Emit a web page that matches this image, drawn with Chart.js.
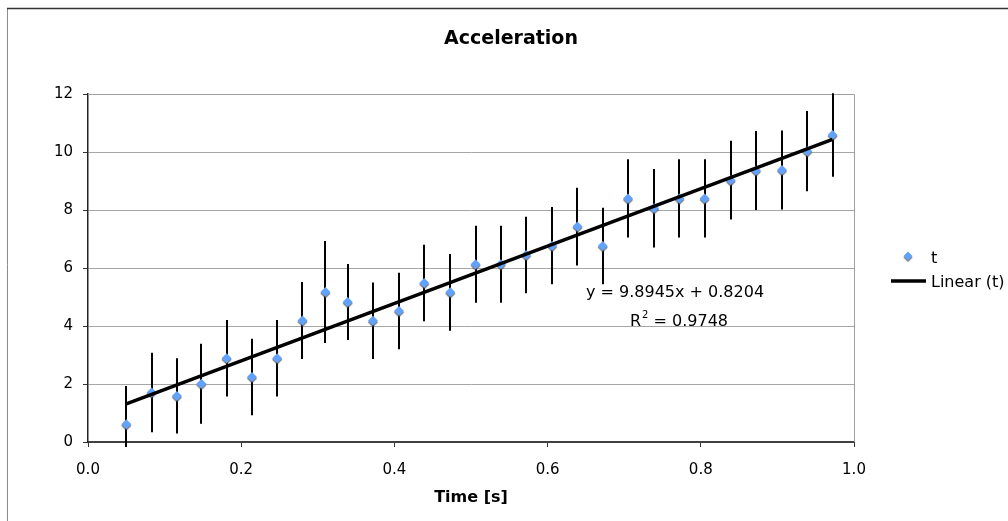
<!DOCTYPE html>
<html><head><meta charset="utf-8">
<script src="https://cdn.jsdelivr.net/npm/chart.js@4"></script>
<style>html,body{margin:0;padding:0;background:#fff}canvas{display:block}</style>
</head><body>
<canvas id="c" width="1008" height="521"></canvas>
<script>
// ---- data ----
const timeValues = [0.050, 0.083, 0.116, 0.148, 0.181, 0.214, 0.247, 0.280, 0.310, 0.339,
                    0.372, 0.406, 0.439, 0.473, 0.506, 0.539, 0.572, 0.606, 0.639, 0.672,
                    0.705, 0.739, 0.772, 0.805, 0.839, 0.872, 0.906, 0.939, 0.972];
const accelValues = [0.61, 1.71, 1.59, 2.01, 2.89, 2.24, 2.89, 4.19, 5.17, 4.83,
                     4.18, 4.52, 5.48, 5.16, 6.13, 6.13, 6.45, 6.77, 7.43, 6.76,
                     8.40, 8.06, 8.40, 8.40, 9.03, 9.36, 9.38, 10.03, 10.59];
const errorValues = [1.32, 1.37, 1.30, 1.38, 1.32, 1.32, 1.32, 1.33, 1.76, 1.31,
                     1.32, 1.32, 1.32, 1.32, 1.33, 1.33, 1.32, 1.33, 1.34, 1.32,
                     1.35, 1.35, 1.35, 1.35, 1.36, 1.36, 1.36, 1.38, 1.44];
const xTickLabels = ['0.0', '0.2', '0.4', '0.6', '0.8', '1.0'];
const yTickLabels = ['0', '2', '4', '6', '8', '10', '12'];
const trendSlope = 9.8945;
const trendIntercept = 0.8204;
const trendR2 = 0.9748;
const chartTitle = 'Acceleration';
const xAxisTitle = 'Time [s]';
const seriesName = 't';
const trendName = 'Linear (t)';

// ---- derived ----
const FONT = '"DejaVu Sans", Verdana, sans-serif';
const MARKER = '#62a2fa';
const scatterData = timeValues.map((t, i) => ({x: t, y: accelValues[i]}));
const tMin = Math.min(...timeValues), tMax = Math.max(...timeValues);
const trendData = [tMin, tMax].map(t => ({x: t, y: trendSlope * t + trendIntercept}));

function diamond(ctx, x, y, r) {
  ctx.beginPath();
  ctx.moveTo(x, y - r); ctx.lineTo(x + r, y); ctx.lineTo(x, y + r); ctx.lineTo(x - r, y);
  ctx.closePath();
}

const decor = {
  id: 'decor',
  beforeDraw(chart) {
    const ctx = chart.ctx;
    ctx.save();
    ctx.fillStyle = '#fff';
    ctx.fillRect(0, 0, chart.width, chart.height);
    ctx.strokeStyle = '#8c8c8c';
    ctx.lineWidth = 1;
    ctx.beginPath(); ctx.moveTo(7.5, chart.height); ctx.lineTo(7.5, 8.5); ctx.stroke();
    ctx.strokeStyle = '#333';
    ctx.lineWidth = 1.5;
    ctx.beginPath(); ctx.moveTo(7, 8.5); ctx.lineTo(chart.width, 8.5); ctx.stroke();
    ctx.restore();
  },
  beforeDatasetsDraw(chart) {
    const ctx = chart.ctx, a = chart.chartArea;
    const xs = chart.scales.x, ys = chart.scales.y;
    ctx.save();
    // plot area top/right frame
    ctx.strokeStyle = '#a0a0a0';
    ctx.lineWidth = 1;
    ctx.beginPath();
    ctx.moveTo(a.left, a.top + 0.5); ctx.lineTo(a.right + 0.5, a.top + 0.5); ctx.lineTo(a.right + 0.5, a.bottom);
    ctx.stroke();
    // error bars
    ctx.beginPath();
    ctx.rect(a.left, a.top - 1, a.right - a.left, a.bottom - a.top + 6);
    ctx.clip();
    ctx.strokeStyle = '#000';
    ctx.lineWidth = 2;
    timeValues.forEach((t, i) => {
      const px = Math.round(xs.getPixelForValue(t));
      ctx.beginPath();
      ctx.moveTo(px, ys.getPixelForValue(accelValues[i] + errorValues[i]));
      ctx.lineTo(px, ys.getPixelForValue(accelValues[i] - errorValues[i]));
      ctx.stroke();
    });
    ctx.restore();
  },
  beforeDatasetDraw(chart, args) {
    if (args.index === 0) {
      const ctx = chart.ctx;
      ctx.save();
      ctx.shadowColor = 'rgba(70,70,70,0.75)';
      ctx.shadowOffsetX = 0;
      ctx.shadowOffsetY = 1.5;
      ctx.shadowBlur = 1;
    }
  },
  afterDatasetDraw(chart, args) {
    if (args.index === 0) chart.ctx.restore();
  },
  afterDraw(chart) {
    const ctx = chart.ctx;
    ctx.save();
    ctx.fillStyle = '#000';
    ctx.textBaseline = 'alphabetic';
    // title
    ctx.font = 'bold 19px ' + FONT;
    ctx.textAlign = 'center';
    ctx.fillText(chartTitle, 511, 44);
    // equation
    ctx.textAlign = 'left';
    ctx.font = '16px ' + FONT;
    ctx.fillText('y = ' + trendSlope.toFixed(4) + 'x + ' + trendIntercept.toFixed(4), 586, 297);
    let x = 630;
    ctx.fillText('R', x, 325.5);
    x += ctx.measureText('R').width;
    ctx.font = '10px ' + FONT;
    ctx.fillText('2', x + 1, 318);
    x += ctx.measureText('2').width + 1;
    ctx.font = '16px ' + FONT;
    ctx.fillText(' = ' + trendR2.toFixed(4), x, 325.5);
    // legend
    ctx.save();
    ctx.shadowColor = 'rgba(70,70,70,0.75)';
    ctx.shadowOffsetY = 1.5;
    ctx.shadowBlur = 1;
    ctx.fillStyle = MARKER;
    diamond(ctx, 908, 256, 4.5);
    ctx.fill();
    ctx.restore();
    ctx.fillText(seriesName, 931, 262.5);
    ctx.strokeStyle = '#000';
    ctx.lineWidth = 3.5;
    ctx.beginPath(); ctx.moveTo(891, 281); ctx.lineTo(926, 281); ctx.stroke();
    ctx.fillText(trendName, 931, 286.5);
    ctx.restore();
  }
};

new Chart(document.getElementById('c'), {
  type: 'scatter',
  data: {
    datasets: [
      {
        label: seriesName,
        data: scatterData,
        pointStyle: 'rectRot',
        pointRadius: 5,
        pointHoverRadius: 5,
        pointBackgroundColor: MARKER,
        pointBorderColor: MARKER,
        pointBorderWidth: 0,
        showLine: false,
        order: 1
      },
      {
        label: trendName,
        data: trendData,
        showLine: true,
        borderColor: '#000',
        borderWidth: 3.5,
        pointRadius: 0,
        fill: false,
        order: 0
      }
    ]
  },
  options: {
    responsive: false,
    animation: false,
    devicePixelRatio: 1,
    layout: {padding: {left: 0, right: 154, top: 94, bottom: 0}},
    plugins: {legend: {display: false}, title: {display: false}, tooltip: {enabled: false}},
    scales: {
      x: {
        type: 'linear', min: 0, max: 1,
        afterBuildTicks(s) { s.ticks = xTickLabels.map(v => ({value: parseFloat(v)})); },
        ticks: {callback: (v) => v.toFixed(1), font: {family: FONT, size: 15}, color: '#000', padding: 14, maxRotation: 0, autoSkip: false},
        grid: {drawOnChartArea: false, drawTicks: true, tickLength: 5, tickColor: '#333', tickWidth: 1},
        border: {display: true, color: '#404040', width: 2},
        title: {display: true, text: xAxisTitle, font: {family: FONT, size: 16, weight: 'bold'}, color: '#000', padding: {top: 0, bottom: 14}},
        afterFit(s) { s.height = 79; }
      },
      y: {
        type: 'linear', min: 0, max: 12,
        afterBuildTicks(s) { s.ticks = yTickLabels.map(v => ({value: parseFloat(v)})); },
        ticks: {callback: (v) => String(v), font: {family: FONT, size: 15}, color: '#000', padding: 10, autoSkip: false},
        grid: {color: '#a6a6a6', lineWidth: 1, drawTicks: true, tickLength: 5, tickColor: '#333'},
        border: {display: true, color: '#222', width: 1.5},
        afterFit(s) { s.width = 88; }
      }
    }
  },
  plugins: [decor]
});
</script>
</body></html>
